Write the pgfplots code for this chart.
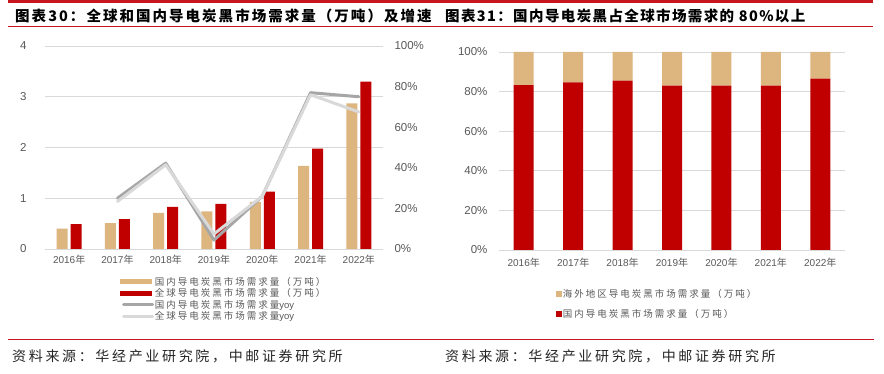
\documentclass[border=0pt]{standalone}
\usepackage{pgfplots}
\pgfplotsset{compat=1.18}
\usepackage{fontspec}
\setmainfont{Liberation Sans}
\newfontfamily\cjk{Noto Sans CJK SC}
\newfontfamily\cjkls{Noto Sans CJK SC}[LetterSpace=21]
\newfontfamily\cjkT{Noto Sans CJK SC}[LetterSpace=14]
\newfontfamily\cjkTb{Noto Sans CJK SC}[LetterSpace=9.5]
\newfontfamily\cjkS{Noto Sans CJK SC}[LetterSpace=19]
\newcommand\nian{{\cjk 年}}
\newcommand\yoy{{\rmfamily yoy}}
\definecolor{tanc}{RGB}{221,181,126}
\definecolor{dred}{RGB}{192,0,0}
\definecolor{lgA}{RGB}{166,166,166}
\definecolor{lgB}{RGB}{217,217,217}
\definecolor{gridc}{RGB}{217,217,217}
\definecolor{txt}{RGB}{89,89,89}
\definecolor{hred}{RGB}{200,22,30}
\pgfplotsset{
  lineleg/.style={legend image code/.code={\draw[##1] (1.5pt,0pt) -- (30.5pt,0pt);}},
  sqleg/.style={legend image code/.code={\fill[##1] (0pt,-3pt) rectangle (6pt,3pt);}},
}
\begin{document}
\begin{tikzpicture}[x=1pt,y=1pt]
\path[fill=white] (0,0) rectangle (884,374);
\fill[hred] (8,371) rectangle (873,374);
\draw[hred, line width=1pt] (8,347) -- (873,347);
\draw[hred, line width=1pt] (8,34) -- (874,34);
\node[anchor=west, inner sep=0] at (15,358) {\cjkT\bfseries\fontsize{14.5}{16}\selectfont 图表30：全球和国内导电炭黑市场需求量（万吨）及增速};
\node[anchor=west, inner sep=0] at (445,358) {\cjkTb\bfseries\fontsize{14.5}{16}\selectfont 图表31：国内导电炭黑占全球市场需求的 80\%以上};
\node[anchor=west, inner sep=0, text=black!85] at (12,18) {\cjkS\fontsize{14}{16}\selectfont 资料来源：华经产业研究院，中邮证券研究所};
\node[anchor=west, inner sep=0, text=black!85] at (445,18) {\cjkS\fontsize{14}{16}\selectfont 资料来源：华经产业研究院，中邮证券研究所};

% ---------- left chart: bars ----------
\begin{axis}[at={(45pt,125pt)}, anchor=south west, scale only axis,
  width=338pt, height=203pt,
  /pgf/number format/assume math mode=true,
  xmin=-0.5, xmax=6.5, ymin=0, ymax=4,
  ytick={0,1,2,3,4}, xtick={0,...,6},
  xticklabels={{2016\nian},{2017\nian},{2018\nian},{2019\nian},{2020\nian},{2021\nian},{2022\nian}},
  axis y line*=left, axis x line*=bottom,
  y axis line style={draw=none}, x axis line style={gridc, line width=0.8pt},
  ymajorgrids, grid style={gridc, line width=0.8pt},
  major tick length=0,
  tick label style={text=txt},
  x tick label style={font=\fontsize{10}{12}\selectfont, yshift=-3pt},
  y tick label style={font=\fontsize{11.5}{13}\selectfont, xshift=-15pt},
  ybar=3pt, bar width=11pt,
]
\addplot[fill=tanc, draw=none] coordinates {(0,0.40)(1,0.51)(2,0.71)(3,0.74)(4,0.93)(5,1.64)(6,2.87)};
\addplot[fill=dred, draw=none] coordinates {(0,0.49)(1,0.59)(2,0.83)(3,0.89)(4,1.13)(5,1.98)(6,3.30)};
\end{axis}

% ---------- left chart: lines ----------
\begin{axis}[at={(45pt,125pt)}, anchor=south west, scale only axis,
  width=338pt, height=203pt,
  /pgf/number format/assume math mode=true,
  xmin=-0.5, xmax=6.5, ymin=0, ymax=100,
  ytick={0,20,...,100}, yticklabel={\pgfmathprintnumber{\tick}\%},
  axis y line*=right, axis x line=none,
  y axis line style={draw=none},
  major tick length=0,
  tick label style={text=txt},
  y tick label style={font=\fontsize{11.5}{13}\selectfont, xshift=8pt},
  legend style={at={(0.222,-0.134)}, anchor=north west, draw=none, fill=none,
    font=\cjkls\fontsize{9.5}{10}\selectfont, text=txt, row sep=0.7pt,
    inner sep=0pt, nodes={inner sep=0.6pt}},
  legend cell align=left,
]
\addlegendimage{area legend, fill=tanc, draw=none, legend image code/.code={\fill[tanc] (-2pt,-2.5pt) rectangle (30pt,2.5pt);}}
\addlegendentry{国内导电炭黑市场需求量（万吨）}
\addlegendimage{area legend, fill=dred, draw=none, legend image code/.code={\fill[dred] (-2pt,-2.5pt) rectangle (30pt,2.5pt);}}
\addlegendentry{全球导电炭黑市场需求量（万吨）}
\addplot[lgA, line width=3pt, line join=round, line cap=round, lineleg]
  coordinates {(1,25)(2,42.3)(3,4.4)(4,26)(5,77)(6,75)};
\addlegendentry{国内导电炭黑市场需求量\yoy}
\addplot[lgB, line width=3pt, line join=round, line cap=round, lineleg]
  coordinates {(1,23.4)(2,41.5)(3,7.4)(4,26)(5,76)(6,67.5)};
\addlegendentry{全球导电炭黑市场需求量\yoy}
\end{axis}

% ---------- right chart ----------
\begin{axis}[at={(499pt,124pt)}, anchor=south west, scale only axis,
  width=346pt, height=198pt,
  /pgf/number format/assume math mode=true,
  xmin=-0.5, xmax=6.5, ymin=0, ymax=100,
  ytick={0,20,...,100}, yticklabel={\pgfmathprintnumber{\tick}\%},
  xtick={0,...,6},
  xticklabels={{2016\nian},{2017\nian},{2018\nian},{2019\nian},{2020\nian},{2021\nian},{2022\nian}},
  axis y line*=left, axis x line*=bottom,
  y axis line style={draw=none}, x axis line style={gridc, line width=0.8pt},
  ymajorgrids, grid style={gridc, line width=0.8pt},
  major tick length=0,
  tick label style={text=txt},
  x tick label style={font=\fontsize{10}{12}\selectfont, yshift=-5pt},
  y tick label style={font=\fontsize{11.5}{13}\selectfont, xshift=-8pt},
  ybar stacked, bar width=20pt,
  reverse legend,
  legend style={at={(0.165,-0.195)}, anchor=north west, draw=none, fill=none,
    font=\cjkls\fontsize{9.5}{10}\selectfont, text=txt, row sep=9pt,
    inner sep=0pt, nodes={inner sep=0.6pt}},
  legend cell align=left,
]
\addplot[fill=dred, draw=none, sqleg] coordinates {(0,83.3)(1,84.7)(2,85.5)(3,83.0)(4,83.0)(5,83.0)(6,86.5)};
\addlegendentry{国内导电炭黑市场需求量（万吨）}
\addplot[fill=tanc, draw=none, sqleg] coordinates {(0,16.7)(1,15.3)(2,14.5)(3,17.0)(4,17.0)(5,17.0)(6,13.5)};
\addlegendentry{海外地区导电炭黑市场需求量（万吨）}
\end{axis}
\end{tikzpicture}
\end{document}
